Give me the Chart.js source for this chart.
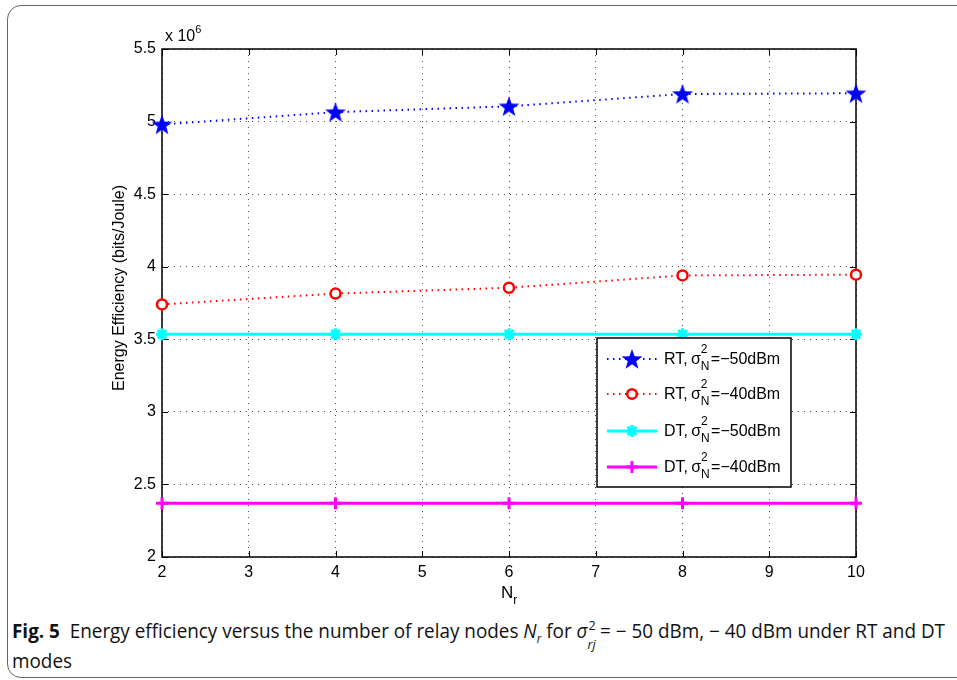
<!DOCTYPE html>
<html><head><meta charset="utf-8">
<script src="https://cdn.jsdelivr.net/npm/chart.js@4.4.1/dist/chart.umd.min.js"></script>
<style>
html,body{margin:0;padding:0;background:#fff;width:957px;height:680px;overflow:hidden;}
#frame{position:absolute;left:7px;top:5px;width:1000px;height:671px;border:1.5px solid #666;border-radius:14px;}
#c{position:absolute;left:0;top:0;}
.t{position:absolute;font-family:"Liberation Sans",Arial,sans-serif;color:#000;white-space:nowrap;}
.ss{display:inline-block;position:relative;width:10px;height:1em;font-size:12px;}
.ss .sp{position:absolute;left:0;top:-0.85em;}
.ss .sb{position:absolute;left:0;top:0.6em;}
#cap{position:absolute;left:12px;top:617px;font-family:"Open Sans",sans-serif;font-size:19.5px;color:#111;white-space:nowrap;transform-origin:0 0;}
#cap2{position:absolute;left:12px;top:647px;font-family:"Open Sans",sans-serif;font-size:19.5px;color:#111;white-space:nowrap;transform-origin:0 0;}
.cs{display:inline-block;position:relative;width:13px;height:1em;font-size:13px;}
.cs .sp{position:absolute;left:1px;top:-0.7em;}
.cs .sb{position:absolute;left:0;top:0.75em;}
</style></head><body>
<div id="frame"></div>
<canvas id="c" width="957" height="600"></canvas>
<div class="t" style="left:165px;top:27px;font-size:16px;">x 10<span style="font-size:11px;position:relative;top:-8px;">6</span></div>
<div class="t" style="left:119px;top:288px;font-size:16px;transform:translate(-50%,-50%) rotate(-90deg);">Energy Efficiency (bits/Joule)</div>
<div class="t" style="left:501px;top:583px;font-size:17px;">N<span style="font-size:12px;position:relative;top:6px;">r</span></div>
<div id="legendText"></div>
<div id="cap"><b>Fig. 5</b>&nbsp; Energy efficiency versus the number of relay nodes <i>N<sub style="font-size:12px">r</sub></i> for <i>σ</i><span class="cs"><span class="sp">2</span><span class="sb"><i>rj</i></span></span>= − 50 dBm, − 40 dBm under RT and DT</div>
<div id="cap2">modes</div>
<script>
// ---- data ----
const nr = [2, 4, 6, 8, 10];
const rt50 = [4.98, 5.065, 5.105, 5.19, 5.195];
const rt40 = [3.74, 3.815, 3.855, 3.94, 3.945];
const dt50 = [3.535, 3.535, 3.535, 3.535, 3.535];
const dt40 = [2.37, 2.37, 2.37, 2.37, 2.37];
const xTicks = [2, 3, 4, 5, 6, 7, 8, 9, 10];
const yTicks = [2, 2.5, 3, 3.5, 4, 4.5, 5, 5.5];
const seriesNames = ["RT", "RT", "DT", "DT"];
const seriesNoise = ["−50dBm", "−40dBm", "−50dBm", "−40dBm"];

function makeStar(color, size) {
  const cv = document.createElement('canvas');
  cv.width = size; cv.height = size;
  const g = cv.getContext('2d');
  const cx = size / 2, cy = size / 2 + size * 0.04, R = size / 2, r = R * 0.4;
  g.beginPath();
  for (let i = 0; i < 10; i++) {
    const a = -Math.PI / 2 + i * Math.PI / 5;
    const rr = i % 2 === 0 ? R : r;
    g.lineTo(cx + rr * Math.cos(a), cy + rr * Math.sin(a));
  }
  g.closePath();
  g.fillStyle = color; g.fill();
  return cv;
}
const blueStar = makeStar('#0000ff', 22);

const pts = arr => arr.map((v, i) => ({ x: nr[i], y: v }));

const L = 162, R = 856, T = 49, B = 557;

const boxPlugin = {
  id: 'box',
  beforeDatasetsDraw(chart) {
    const { ctx, chartArea: a, scales } = chart;
    ctx.save();
    ctx.strokeStyle = '#000'; ctx.lineWidth = 1;
    ctx.beginPath();
    xTicks.forEach(v => {
      const p = Math.round(scales.x.getPixelForValue(v)) + 0.5;
      ctx.moveTo(p, a.bottom); ctx.lineTo(p, a.bottom - 6);
      ctx.moveTo(p, a.top); ctx.lineTo(p, a.top + 6);
    });
    yTicks.forEach(v => {
      const p = Math.round(scales.y.getPixelForValue(v)) + 0.5;
      ctx.moveTo(a.left, p); ctx.lineTo(a.left + 6, p);
      ctx.moveTo(a.right, p); ctx.lineTo(a.right - 6, p);
    });
    ctx.stroke();
    ctx.lineWidth = 1.5;
    ctx.strokeRect(a.left, a.top, a.right - a.left, a.bottom - a.top);
    ctx.restore();
  },
  afterDraw(chart) {
    const ctx = chart.ctx;
    const bx = 597, by = 338, bw = 194, bh = 149;
    ctx.save();
    ctx.fillStyle = '#fff';
    ctx.fillRect(bx, by, bw, bh);
    ctx.strokeStyle = '#000'; ctx.lineWidth = 1.5;
    ctx.strokeRect(bx, by, bw, bh);
    const rows = [359, 394, 431, 467];
    chart.data.datasets.forEach((ds, i) => {
      const y = rows[i];
      ctx.save();
      ctx.strokeStyle = ds.borderColor; ctx.lineWidth = ds.borderWidth;
      ctx.setLineDash(ds.borderDash || []);
      ctx.beginPath(); ctx.moveTo(607, y); ctx.lineTo(657, y); ctx.stroke();
      ctx.restore();
      const mx = 632;
      ctx.save();
      if (i === 0) {
        ctx.drawImage(blueStar, mx - 11, y - 11);
      } else if (i === 1) {
        ctx.strokeStyle = '#ff0000'; ctx.lineWidth = 2.5; ctx.fillStyle = '#fff';
        ctx.beginPath(); ctx.arc(mx, y, 4.8, 0, Math.PI * 2); ctx.fill(); ctx.stroke();
      } else if (i === 2) {
        ctx.strokeStyle = '#00ffff'; ctx.lineWidth = 3;
        ctx.beginPath();
        for (let k = 0; k < 4; k++) {
          const a = k * Math.PI / 4;
          ctx.moveTo(mx - 6 * Math.cos(a), y - 6 * Math.sin(a));
          ctx.lineTo(mx + 6 * Math.cos(a), y + 6 * Math.sin(a));
        }
        ctx.stroke();
      } else {
        ctx.strokeStyle = '#ff00ff'; ctx.lineWidth = 3;
        ctx.beginPath();
        ctx.moveTo(mx - 6, y); ctx.lineTo(mx + 6, y);
        ctx.moveTo(mx, y - 6); ctx.lineTo(mx, y + 6);
        ctx.stroke();
      }
      ctx.restore();
    });
    ctx.restore();
  }
};

const chart = new Chart(document.getElementById('c'), {
  type: 'line',
  data: {
    datasets: [
      { data: pts(rt50), borderColor: '#0000ff', borderWidth: 2, borderDash: [1.5, 4.5],
        pointStyle: blueStar, pointRadius: 11, clip: false },
      { data: pts(rt40), borderColor: '#ff0000', borderWidth: 2, borderDash: [1.5, 4.5],
        pointStyle: 'circle', pointRadius: 5, pointBorderWidth: 2.5, pointBackgroundColor: '#fff',
        pointBorderColor: '#ff0000', clip: false },
      { data: pts(dt50), borderColor: '#00ffff', borderWidth: 3,
        pointStyle: 'star', pointRadius: 6, pointBorderWidth: 3, pointBorderColor: '#00ffff', clip: false },
      { data: pts(dt40), borderColor: '#ff00ff', borderWidth: 3,
        pointStyle: 'cross', pointRadius: 6, pointBorderWidth: 3, pointBorderColor: '#ff00ff', clip: false }
    ]
  },
  options: {
    responsive: false, animation: false, devicePixelRatio: 1,
    layout: { padding: { left: 0, right: 957 - R, top: T, bottom: 0 } },
    plugins: { legend: { display: false }, tooltip: { enabled: false } },
    elements: { line: { tension: 0 } },
    scales: {
      x: {
        type: 'linear', min: 2, max: 10,
        afterBuildTicks: s => { s.ticks = xTicks.map(v => ({ value: v })); },
        afterFit: s => { s.height = 600 - B; },
        ticks: { color: '#000', padding: 6, font: { family: "'Liberation Sans', Arial", size: 16 }, callback: v => String(v) },
        grid: { color: '#555', lineWidth: 1, drawTicks: false },
        border: { display: false, dash: [1, 5] }
      },
      y: {
        type: 'linear', min: 2, max: 5.5,
        afterBuildTicks: s => { s.ticks = yTicks.map(v => ({ value: v })); },
        afterFit: s => { s.width = L; },
        ticks: { color: '#000', padding: 6, font: { family: "'Liberation Sans', Arial", size: 16 }, callback: v => String(v) },
        grid: { color: '#555', lineWidth: 1, drawTicks: false },
        border: { display: false, dash: [1, 5] }
      }
    }
  },
  plugins: [boxPlugin]
});

// legend text
const rows = [359, 394, 431, 467];
let html = '';
rows.forEach((y, i) => {
  html += '<div class="t" style="left:664px;top:' + (y - 9) + 'px;font-size:16px;">' + seriesNames[i] +
    ',&thinsp;σ<span class="ss"><span class="sp">2</span><span class="sb">N</span></span>=' + seriesNoise[i] + '</div>';
});
document.getElementById('legendText').innerHTML = html;

// fit caption line to width
const cap = document.getElementById('cap');
const w = cap.getBoundingClientRect().width;
const sx = 933 / w;
cap.style.transform = 'scaleX(' + sx + ')';
document.getElementById('cap2').style.transform = 'scaleX(' + sx + ')';
</script>
</body></html>
